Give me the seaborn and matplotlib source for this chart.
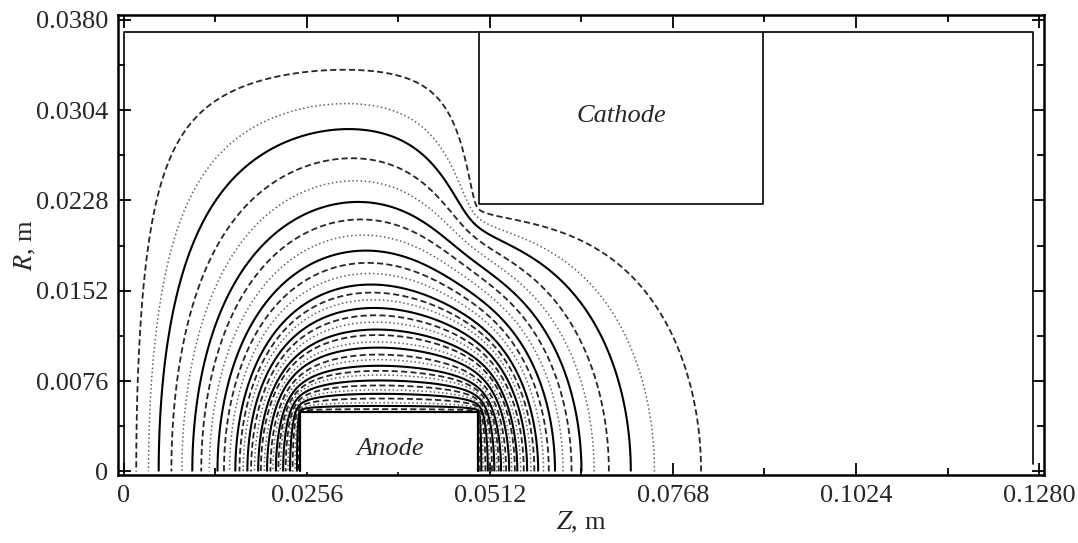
import numpy as np
import matplotlib
matplotlib.use("Agg")
import matplotlib.pyplot as plt
import seaborn as sns

# Contour gaps from the anode surface, outermost contour first (m)
top_gap = [0.0287, 0.0257, 0.0240, 0.0209, 0.0191, 0.0175, 0.0160, 0.0148, 0.0137,
           0.0126, 0.0117, 0.0107, 0.0100, 0.0094, 0.0087, 0.0081, 0.0075, 0.0069,
           0.0064, 0.0058, 0.0054, 0.0048, 0.0044, 0.0039, 0.0035, 0.0032, 0.0027,
           0.0023, 0.0019, 0.0016, 0.0012, 0.0008, 0.0005, 0.0002]
left_gap = [0.0228, 0.0211, 0.0195, 0.0179, 0.0165, 0.0151, 0.0141, 0.0130, 0.0119,
            0.0110, 0.0102, 0.0094, 0.0088, 0.0083, 0.0077, 0.0072, 0.0067, 0.0062,
            0.0058, 0.0053, 0.0049, 0.0044, 0.0040, 0.0036, 0.0032, 0.0029, 0.0025,
            0.0021, 0.0018, 0.0015, 0.0011, 0.0008, 0.0005, 0.0002]
right_gap = [0.0319, 0.0251, 0.0214, 0.0188, 0.0165, 0.0145, 0.0129, 0.0116, 0.0103,
             0.0095, 0.0088, 0.0081, 0.0076, 0.0071, 0.0066, 0.0061, 0.0057, 0.0052,
             0.0049, 0.0045, 0.0041, 0.0037, 0.0034, 0.0030, 0.0027, 0.0024, 0.0021,
             0.0018, 0.0015, 0.0012, 0.0009, 0.0006, 0.0004, 0.0002]
top_z = 0.0350   # Z where the top gaps were read
line_kind = ['dashed', 'dotted', 'solid']   # repeats from the outside in

# geometry (m)
anode_z = [0.0247, 0.0496]
anode_r = 0.0050
cathode_z = [0.0497, 0.0894]
cathode_r = [0.0225, 0.0370]
domain_z = [0.0, 0.1271]
domain_r = 0.0370

x_ticks = [0, 0.0256, 0.0512, 0.0768, 0.1024, 0.1280]
x_labels = ['0', '0.0256', '0.0512', '0.0768', '0.1024', '0.1280']
y_ticks = [0, 0.0076, 0.0152, 0.0228, 0.0304, 0.0380]
y_labels = ['0', '0.0076', '0.0152', '0.0228', '0.0304', '0.0380']

# --- potential between anode (1) and cathode / walls (0), axisymmetric Laplace, red-black SOR
h = 0.00025
zg = np.arange(0, domain_z[1] + h / 2, h)
rg = np.arange(0, domain_r + h / 2, h)
Zg, Rg = np.meshgrid(zg, rg)
anode = (Zg >= anode_z[0]) & (Zg <= anode_z[1]) & (Rg <= anode_r)
cath = (Zg >= cathode_z[0]) & (Zg <= cathode_z[1]) & (Rg >= cathode_r[0])
fixed = anode | cath
fixed[:, 0] = fixed[:, -1] = True
fixed[-1, :] = True
phi = np.where(anode, 1.0, 0.0)
rr = Rg[1:-1, 1:-1]
cn = 1 + h / (2 * rr)
cs = 1 - h / (2 * rr)
parity = (np.add.outer(np.arange(len(rg)), np.arange(len(zg))) % 2).astype(bool)
masks = [~parity & ~fixed, parity & ~fixed]
omega = 1.97
new = phi.copy()
for it in range(2500):
    for m in masks:
        new[1:-1, 1:-1] = (phi[1:-1, 2:] + phi[1:-1, :-2]
                           + cn * phi[2:, 1:-1] + cs * phi[:-2, 1:-1]) / 4
        new[0, 1:-1] = (phi[0, 2:] + phi[0, :-2] + 4 * phi[1, 1:-1]) / 6
        phi[m] += omega * (new[m] - phi[m])

# contour levels: potential at the read-off crossing points, averaged over the three sides
z1, z2 = anode_z
jt = int(round(top_z / h))
lv_left = np.interp(z1 - np.array(left_gap), zg, phi[0])
lv_right = np.interp(z2 + np.array(right_gap), zg, phi[0])
lv_top = np.interp(anode_r + np.array(top_gap), rg, phi[:, jt])
levels = (lv_left + lv_right + lv_top) / 3

sns.set_theme(style="ticks")
plt.rcParams['font.family'] = ['Liberation Serif', 'DejaVu Serif']
plt.rcParams['mathtext.fontset'] = 'stix'

fig = plt.figure(figsize=(10.78, 5.43), dpi=100)
ax = fig.add_axes([0.1095, 0.1252, 0.859, 0.8472])

styles = {'dashed': dict(colors='#262626', linestyles=[(0, (3.4, 1.8))], linewidths=1.3),
          'dotted': dict(colors='#606060', linestyles=[(0, (1, 1.7))], linewidths=1.1),
          'solid': dict(colors='black', linestyles=['solid'], linewidths=1.5)}
for k, kind in enumerate(line_kind):
    lev = np.unique(np.sort(levels[k::3]))
    ax.contour(zg, rg, phi, levels=lev, **styles[kind])

# electrodes and domain boundary
ax.fill_between(anode_z, 0, anode_r, color='white', zorder=3)
sns.lineplot(x=[anode_z[0], anode_z[0], anode_z[1], anode_z[1]],
             y=[0, anode_r, anode_r, 0], sort=False, estimator=None,
             color='black', lw=1.6, ax=ax, zorder=4)
ax.fill_between(cathode_z, cathode_r[0], cathode_r[1], color='white', zorder=3)
sns.lineplot(x=[cathode_z[0], cathode_z[0], cathode_z[1], cathode_z[1]],
             y=[cathode_r[1], cathode_r[0], cathode_r[0], cathode_r[1]],
             sort=False, estimator=None, color='black', lw=1.2, ax=ax, zorder=4)
sns.lineplot(x=[domain_z[0], domain_z[0], domain_z[1], domain_z[1]],
             y=[0, domain_r, domain_r, 0.0006], sort=False, estimator=None,
             color='black', lw=1.2, ax=ax, zorder=4)

ax.text(0.0696, 0.0299, 'Cathode', style='italic', ha='center', va='center', fontsize=19, zorder=5)
ax.text(0.0373, 0.0019, 'Anode', style='italic', ha='center', va='center', fontsize=19, zorder=5)

ax.set_xlim(-0.0008, 0.1287)
ax.set_ylim(-0.0003, 0.0384)
ax.set_xticks(x_ticks)
ax.set_xticklabels(x_labels)
ax.set_yticks(y_ticks)
ax.set_yticklabels(y_labels)
ax.set_xticks(np.arange(0, 0.13, 0.0128), minor=True)
ax.set_yticks(np.arange(0, 0.039, 0.0038), minor=True)
ax.tick_params(which='both', direction='in', top=True, right=True, labelsize=19,
               color='black', width=1.3)
ax.tick_params(which='major', length=9, pad=7)
ax.tick_params(which='minor', length=5)
for sp in ax.spines.values():
    sp.set_linewidth(1.8)
    sp.set_color('black')
ax.set_xlabel('$Z$, m', fontsize=19, labelpad=2)
ax.set_ylabel('$R$, m', fontsize=19, labelpad=-2)

fig.savefig('out.png', dpi=100)
